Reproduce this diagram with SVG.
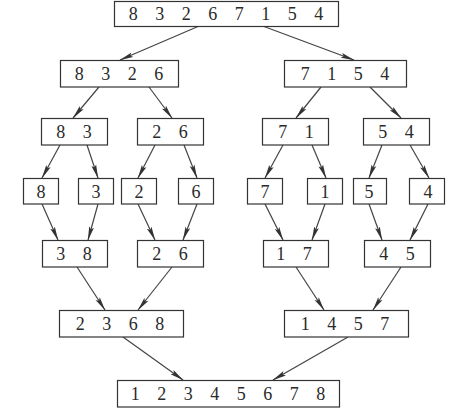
<svg xmlns="http://www.w3.org/2000/svg" width="452" height="411" viewBox="0 0 452 411">
<style>
rect{fill:#fff;stroke:#333;stroke-width:1.2}
text{font-family:"Liberation Serif","Times New Roman",serif;font-size:18px;fill:#2a2a2a;text-anchor:middle;word-spacing:13px}
.c line{stroke:#444;stroke-width:1.2;marker-end:url(#ah)}
</style>
<defs>
<marker id="ah" markerUnits="userSpaceOnUse" markerWidth="14" markerHeight="6" refX="13.5" refY="3" orient="auto" viewBox="0 0 14 6">
<path d="M0,0.5 L14,3 L0,5.5 L2.5,3 z" fill="#333"/>
</marker>
</defs>
<rect x="0" y="0" width="452" height="411" style="stroke:none"/>
<g class="c" id="connectors">
<line x1="198" y1="26.5" x2="120" y2="60"/>
<line x1="264" y1="26.5" x2="354" y2="60"/>
<line x1="99" y1="87" x2="73" y2="118"/>
<line x1="149" y1="87" x2="172" y2="118"/>
<line x1="321" y1="87" x2="296" y2="118"/>
<line x1="370" y1="87" x2="401" y2="118"/>
<line x1="60" y1="145" x2="42" y2="178"/>
<line x1="87" y1="145" x2="98" y2="178"/>
<line x1="155" y1="145" x2="138" y2="178"/>
<line x1="184" y1="145" x2="197" y2="178"/>
<line x1="283" y1="145" x2="265" y2="178"/>
<line x1="312" y1="145" x2="326" y2="178"/>
<line x1="382" y1="145" x2="369" y2="178"/>
<line x1="410" y1="145" x2="429" y2="178"/>
<line x1="42" y1="204" x2="58" y2="240"/>
<line x1="98" y1="204" x2="88" y2="240"/>
<line x1="138" y1="204" x2="155" y2="240"/>
<line x1="197" y1="204" x2="183" y2="240"/>
<line x1="265" y1="204" x2="283" y2="240"/>
<line x1="325" y1="204" x2="312" y2="240"/>
<line x1="369" y1="204" x2="382" y2="240"/>
<line x1="428" y1="204" x2="410" y2="240"/>
<line x1="77" y1="267" x2="105" y2="310"/>
<line x1="172" y1="267" x2="138" y2="310"/>
<line x1="296" y1="267" x2="324" y2="310"/>
<line x1="401" y1="267" x2="373" y2="310"/>
<line x1="123" y1="337" x2="183" y2="380"/>
<line x1="348" y1="337" x2="273" y2="380"/>
</g>
<g id="n0"><rect x="114.5" y="1.5" width="224" height="25"/><text x="226" y="20">8 3 2 6 7 1 5 4</text></g>
<g id="n1"><rect x="60.5" y="60.5" width="118" height="26.5"/><text x="119" y="80">8 3 2 6</text></g>
<g id="n2"><rect x="284.5" y="60.5" width="122" height="26.5"/><text x="345" y="80">7 1 5 4</text></g>
<g id="n3"><rect x="41.5" y="118.5" width="66" height="26.5"/><text x="74" y="138">8 3</text></g>
<g id="n4"><rect x="137.5" y="118.5" width="66" height="26.5"/><text x="170" y="138">2 6</text></g>
<g id="n5"><rect x="262.5" y="118.5" width="66" height="26.5"/><text x="296" y="138">7 1</text></g>
<g id="n6"><rect x="363.5" y="118.5" width="66" height="26.5"/><text x="396" y="138">5 4</text></g>
<g id="n7"><rect x="23.5" y="178.5" width="35" height="25.5"/><text x="41" y="198">8</text></g>
<g id="n8"><rect x="78.5" y="178.5" width="35" height="25.5"/><text x="96" y="198">3</text></g>
<g id="n9"><rect x="121.5" y="178.5" width="35" height="25.5"/><text x="139" y="198">2</text></g>
<g id="n10"><rect x="178.5" y="178.5" width="35" height="25.5"/><text x="196" y="198">6</text></g>
<g id="n11"><rect x="247.5" y="178.5" width="35" height="25.5"/><text x="265" y="198">7</text></g>
<g id="n12"><rect x="307.5" y="178.5" width="35" height="25.5"/><text x="325" y="198">1</text></g>
<g id="n13"><rect x="353.5" y="178.5" width="33" height="25.5"/><text x="369" y="198">5</text></g>
<g id="n14"><rect x="409.5" y="178.5" width="35" height="25.5"/><text x="428" y="198">4</text></g>
<g id="n15"><rect x="42.5" y="240.5" width="65" height="26.5"/><text x="74" y="260">3 8</text></g>
<g id="n16"><rect x="137.5" y="240.5" width="66" height="26.5"/><text x="170" y="260">2 6</text></g>
<g id="n17"><rect x="263.5" y="240.5" width="65" height="26.5"/><text x="294" y="260">1 7</text></g>
<g id="n18"><rect x="364.5" y="240.5" width="66" height="26.5"/><text x="397" y="260">4 5</text></g>
<g id="n19"><rect x="59.5" y="310.5" width="124" height="26.5"/><text x="120" y="330">2 3 6 8</text></g>
<g id="n20"><rect x="284.5" y="310.5" width="124" height="26.5"/><text x="345" y="330">1 4 5 7</text></g>
<g id="n21"><rect x="117.5" y="380.5" width="222" height="26.5"/><text x="228" y="400">1 2 3 4 5 6 7 8</text></g>
</svg>
